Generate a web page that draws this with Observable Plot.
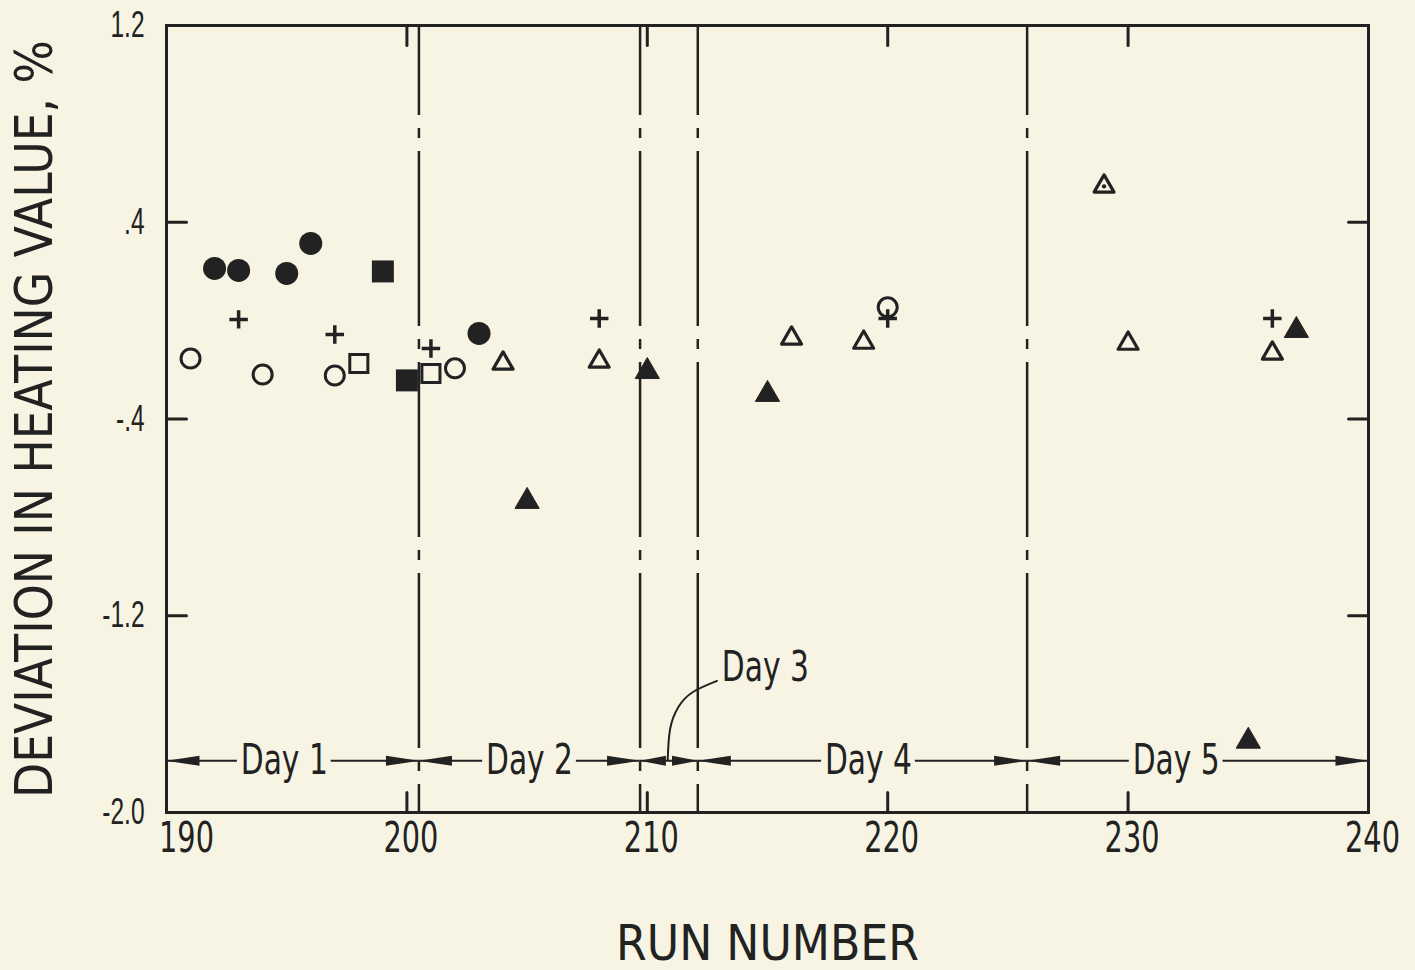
<!DOCTYPE html>
<html><head><meta charset="utf-8">
<script src="https://cdn.jsdelivr.net/npm/d3@7"></script>
<script src="https://cdn.jsdelivr.net/npm/@observablehq/plot@0.6"></script>
<style>
html,body{margin:0;padding:0;background:#f7f4e3;}
#chart{width:1415px;height:970px;}
</style></head><body><div id="chart"></div>
<script>
// ---------- data ----------
const xTickLabels = [190, 200, 210, 220, 230, 240];
const xInnerTicks = [200, 210, 220, 230];
const yTickLabels = [1.2, 0.4, -0.4, -1.2, -2.0];
const yInnerTicks = [0.4, -0.4, -1.2];

const filledCircleRun = [192, 193, 195, 196, 203];
const filledCircleDev = [0.212, 0.204, 0.192, 0.314, -0.052];
const openCircleRun = [191, 194, 197, 202, 220];
const openCircleDev = [-0.154, -0.219, -0.223, -0.194, 0.054];
const filledSquareRun = [199, 200];
const filledSquareDev = [0.200, -0.243];
const openSquareRun = [198, 201];
const openSquareDev = [-0.174, -0.215];
const plusRun = [193, 197, 201, 208, 220, 236];
const plusDev = [0.005, -0.056, -0.113, 0.009, 0.009, 0.009];
const openTriRun = [204, 208, 216, 219, 230, 236];
const openTriDev = [-0.174, -0.166, -0.072, -0.089, -0.093, -0.133];
const dotTriRun = [229];
const dotTriDev = [0.546];
const filledTriRun = [205, 210, 215, 235, 237];
const filledTriDev = [-0.735, -0.207, -0.300, -1.710, -0.040];

const dayNames = ["Day 1", "Day 2", "Day 3", "Day 4", "Day 5"];
const dayStart = [190, 200.5, 209.7, 212.1, 225.8];
const dayEnd = [200.5, 209.7, 212.1, 225.8, 240];
const dayBounds = [200.5, 209.7, 212.1, 225.8];
const dayLabelRun = [194.9, 205.1, null, 219.2, 232.0];
const dayLineDev = -1.79;
const day3LabelRun = 213.1, day3LabelDev = -1.41;
const day3LeaderRun = [210.85, 210.95, 211.3, 211.9, 212.9];
const day3LeaderDev = [-1.785, -1.66, -1.57, -1.51, -1.465];

// ---------- styles ----------
const BG = "#f7f4e3";
const INK = "#222222";
const COND = "'DejaVu Sans',sans-serif";
const REG = "'Liberation Sans',Arial,sans-serif";
const labelHalfGap = 1.95; // gap around the day labels, in runs

const pts = (xs, ys) => xs.map((x, i) => ({x, y: ys[i]}));

const arrowHead = {draw(ctx, size) {
  const L = Math.sqrt(size / Math.PI), w = 5;
  ctx.moveTo(0, 0); ctx.lineTo(-L, -w); ctx.lineTo(-L, w); ctx.closePath();
}};
const tickShape = {draw(ctx, l) { ctx.moveTo(0, 0); ctx.lineTo(0, -l); }};

const arrows = [];
const segments = [];
dayNames.forEach((n, i) => {
  const L = Math.min(33, (dayEnd[i] - dayStart[i]) * 24 / 2 - 3);
  arrows.push({x: dayStart[i], rot: 180, L});
  arrows.push({x: dayEnd[i], rot: 0, L});
  const c = dayLabelRun[i];
  if (c == null) segments.push({x1: dayStart[i], x2: dayEnd[i]});
  else {
    segments.push({x1: dayStart[i], x2: c - labelHalfGap});
    segments.push({x1: c + labelHalfGap, x2: dayEnd[i]});
  }
});
const dayLabels = dayNames.map((n, i) => ({n, x: dayLabelRun[i]})).filter(d => d.x != null);

const fmt = d => d.toFixed(1).replace("0.", ".");
const xAxisStyle = {anchor: "bottom", tickSize: 0, tickPadding: 10, fontSize: 42, fontFamily: COND, label: null};

const chart = Plot.plot({
  width: 1415, height: 970,
  marginTop: 25, marginBottom: 158, marginLeft: 166, marginRight: 47,
  x: {domain: [190, 240]},
  y: {domain: [-2.0, 1.2]},
  r: {type: "identity"},
  style: {background: BG, color: INK, overflow: "visible"},
  marks: [
    Plot.ruleX(dayBounds, {x: d => d, stroke: INK, strokeWidth: 2.5, strokeDasharray: "175,13,10,13", strokeDashoffset: 85}),
    Plot.ruleY(segments, {y: dayLineDev, x1: "x1", x2: "x2", stroke: INK, strokeWidth: 2}),
    Plot.dot(arrows, {x: "x", y: dayLineDev, r: "L", rotate: "rot", symbol: arrowHead, fill: INK, stroke: "none"}),
    Plot.text(dayLabels, {x: "x", y: dayLineDev, text: "n", fontSize: 42, fontFamily: COND, fill: INK, lineAnchor: "middle", textAnchor: "middle"}),
    Plot.line(pts(day3LeaderRun, day3LeaderDev), {x: "x", y: "y", curve: "natural", stroke: INK, strokeWidth: 2}),
    Plot.text([dayNames[2]], {x: day3LabelRun, y: day3LabelDev, text: d => d, textAnchor: "start", fontSize: 42, fontFamily: COND, fill: INK, lineAnchor: "middle"}),
    Plot.frame({stroke: INK, strokeWidth: 3}),
    Plot.vector(xInnerTicks, {x: d => d, y: 1.2, length: 20, rotate: 180, anchor: "start", shape: tickShape, stroke: INK, strokeWidth: 3}),
    Plot.vector(xInnerTicks, {x: d => d, y: -2.0, length: 20, rotate: 0, anchor: "start", shape: tickShape, stroke: INK, strokeWidth: 3}),
    Plot.vector(yInnerTicks, {x: 190, y: d => d, length: 20, rotate: 90, anchor: "start", shape: tickShape, stroke: INK, strokeWidth: 3}),
    Plot.vector(yInnerTicks, {x: 240, y: d => d, length: 20, rotate: 270, anchor: "start", shape: tickShape, stroke: INK, strokeWidth: 3}),
    Plot.axisX(xTickLabels.slice(0, 1), {...xAxisStyle, dx: 20}),
    Plot.axisX(xTickLabels.slice(1), {...xAxisStyle, dx: 4}),
    Plot.axisY(yTickLabels, {anchor: "left", tickSize: 0, tickPadding: 22, fontSize: 36, fontFamily: REG, tickFormat: fmt, label: null}),
    // data marks
    Plot.dot(pts(filledCircleRun, filledCircleDev), {x: "x", y: "y", r: 11.5, symbol: "circle", fill: INK}),
    Plot.dot(pts(openCircleRun, openCircleDev), {x: "x", y: "y", r: 9.5, symbol: "circle", fill: "none", stroke: INK, strokeWidth: 3}),
    Plot.dot(pts(filledSquareRun, filledSquareDev), {x: "x", y: "y", r: 12.4, symbol: "square", fill: INK}),
    Plot.dot(pts(openSquareRun, openSquareDev), {x: "x", y: "y", r: 10.2, symbol: "square", fill: "none", stroke: INK, strokeWidth: 3}),
    Plot.dot(pts(plusRun, plusDev), {x: "x", y: "y", r: 6, symbol: "plus", fill: "none", stroke: INK, strokeWidth: 3.5}),
    Plot.dot(pts(openTriRun, openTriDev), {x: "x", y: "y", r: 7.4, symbol: "triangle", fill: "none", stroke: INK, strokeWidth: 3.2, strokeLinejoin: "round"}),
    Plot.dot(pts(dotTriRun, dotTriDev), {x: "x", y: "y", r: 7.4, symbol: "triangle", fill: "none", stroke: INK, strokeWidth: 3.2, strokeLinejoin: "round"}),
    Plot.dot(pts(dotTriRun, dotTriDev), {x: "x", y: "y", r: 2.2, symbol: "circle", fill: INK}),
    Plot.dot(pts(filledTriRun, filledTriDev), {x: "x", y: "y", r: 9, symbol: "triangle", fill: INK, stroke: INK, strokeWidth: 1, strokeLinejoin: "round"}),
    // titles
    Plot.text(["RUN NUMBER"], {frameAnchor: "bottom", dy: 131, text: d => d, textAnchor: "middle", lineAnchor: "middle", fontSize: 50, fontFamily: COND, fill: INK}),
    Plot.text(["DEVIATION IN HEATING VALUE, %"], {frameAnchor: "left", dx: -131, rotate: -90, text: d => d, textAnchor: "middle", lineAnchor: "middle", fontSize: 52, fontFamily: COND, fill: INK})
  ]
});
document.getElementById("chart").appendChild(chart);

// condense texts (the original uses a condensed typeface)
function fitTexts(strings, refString, target) {
  const sel = [...chart.querySelectorAll("text")].filter(t => strings.includes(t.textContent));
  const ref = sel.find(t => t.textContent === refString);
  if (!ref) return;
  const w = ref.getComputedTextLength();
  if (!w) return;
  const r = target / w;
  sel.forEach(t => {
    const l = t.getComputedTextLength();
    t.setAttribute("textLength", (l * r).toFixed(1));
    t.setAttribute("lengthAdjust", "spacingAndGlyphs");
  });
}
fitTexts(dayNames, "Day 2", 87);
fitTexts(xTickLabels.map(String), "200", 55);
fitTexts(yTickLabels.map(fmt), "1.2", 34);
fitTexts(["RUN NUMBER"], "RUN NUMBER", 303);
fitTexts(["DEVIATION IN HEATING VALUE, %"], "DEVIATION IN HEATING VALUE, %", 758);
</script></body></html>
